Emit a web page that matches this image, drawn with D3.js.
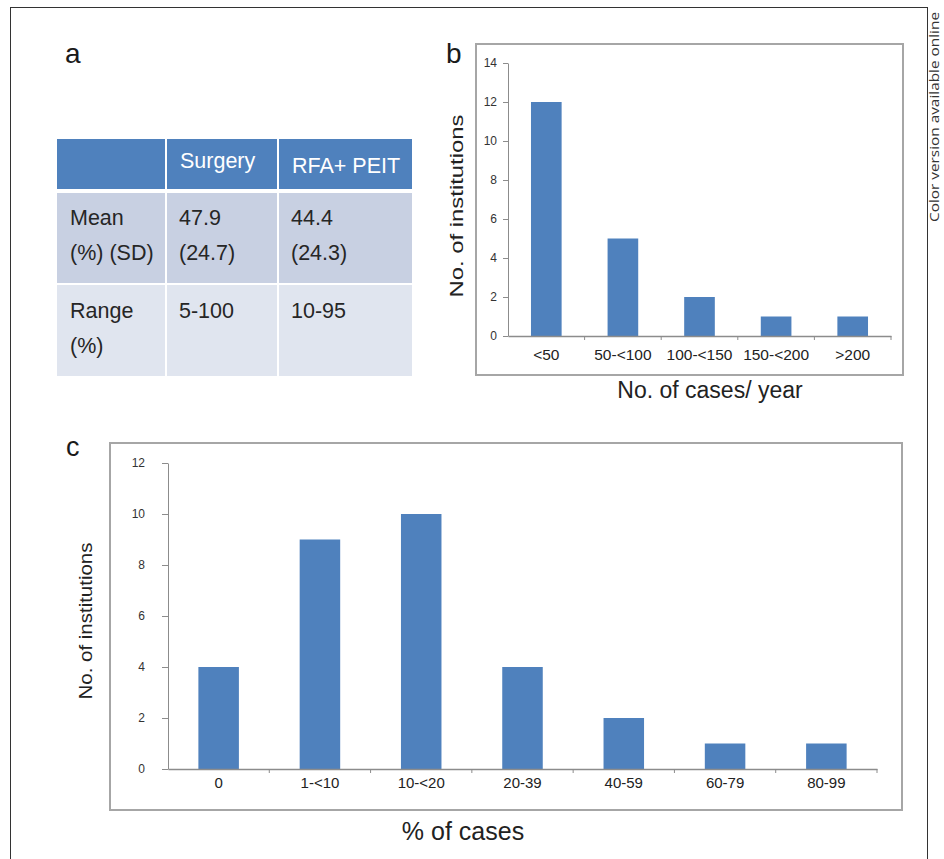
<!DOCTYPE html>
<html>
<head>
<meta charset="utf-8">
<script src="https://cdn.jsdelivr.net/npm/d3@7"></script>
<style>
  body { margin: 0; background: #fff; }
  svg { display: block; font-family: "Liberation Sans", Arial, sans-serif; }
</style>
</head>
<body>
<svg id="fig" width="944" height="859"></svg>
<script>
// ---- data ----
const tableHeader = ["", "Surgery", "RFA+ PEIT"];
const tableRows = [
    [["Mean", "(%) (SD)"], ["47.9", "(24.7)"], ["44.4", "(24.3)"]],
    [["Range", "(%)"], ["5-100"], ["10-95"]]
];

const casesCategories = ["<50", "50-<100", "100-<150", "150-<200", ">200"];
const casesValues = [12, 5, 2, 1, 1];
const casesTicks = [0, 2, 4, 6, 8, 10, 12, 14];

const percentCategories = ["0", "1-<10", "10-<20", "20-39", "40-59", "60-79", "80-99"];
const percentValues = [4, 9, 10, 4, 2, 1, 1];
const percentTicks = [0, 2, 4, 6, 8, 10, 12];

const barColor = "#4f81bd";
const axisColor = "#8c8c8c";
const textColor = "#262626";

const svg = d3.select("#fig");

// outer frame
svg.append("rect")
    .attr("x", 10.5).attr("y", 7.5)
    .attr("width", 917).attr("height", 900)
    .attr("fill", "none")
    .attr("stroke", "#333")
    .attr("stroke-width", 1);

svg.append("text")
    .attr("transform", "translate(939,12) rotate(-90)")
    .attr("text-anchor", "end")
    .attr("textLength", 210)
    .attr("lengthAdjust", "spacingAndGlyphs")
    .style("font-family", "'Open Sans', sans-serif")
    .style("font-size", "12.5px")
    .style("fill", "#333")
    .text("Color version available online");

// panel letters
const letters = [
    { t: "a", x: 65, y: 63, s: 28 },
    { t: "b", x: 446, y: 63, s: 28 },
    { t: "c", x: 66, y: 456, s: 27 }
];
svg.selectAll("text.letter")
    .data(letters)
    .enter()
    .append("text")
    .attr("class", "letter")
    .attr("x", d => d.x)
    .attr("y", d => d.y)
    .style("font-size", d => d.s + "px")
    .style("fill", "#1a1a1a")
    .text(d => d.t);

// ---- panel a: table ----
const colX = [57, 167, 279];
const colW = [108, 110, 133];
const rowY = [139, 193, 285];
const rowH = [50, 90, 91];
const rowFill = ["#4f81bd", "#c8d0e2", "#e0e5ef"];
const table = svg.append("g");

[tableHeader].concat(tableRows).forEach((row, ri) => {
    row.forEach((cell, ci) => {
        table.append("rect")
            .attr("x", colX[ci])
            .attr("y", rowY[ri])
            .attr("width", colW[ci])
            .attr("height", rowH[ri])
            .attr("fill", rowFill[ri]);
    });
});

table.selectAll("text.head")
    .data(tableHeader)
    .enter()
    .append("text")
    .attr("class", "head")
    .attr("x", (d, i) => colX[i] + 13)
    .attr("y", (d, i) => i === 2 ? 173 : 168)
    .style("font-size", "21.5px")
    .style("fill", "#fff")
    .text(d => d);

tableRows.forEach((row, ri) => {
    const base = ri === 0 ? 225 : 318;
    row.forEach((cell, ci) => {
        const xOff = ci === 0 ? 13 : 12;
        cell.forEach((line, li) => {
            table.append("text")
                .attr("x", colX[ci] + xOff)
                .attr("y", base + li * 35)
                .style("font-size", "21.5px")
                .style("fill", textColor)
                .text(line);
        });
    });
});

// ---- bar chart helper ----
function barChart(cfg) {
    const g = svg.append("g");

    g.append("rect")
        .attr("x", cfg.frame[0]).attr("y", cfg.frame[1])
        .attr("width", cfg.frame[2] - cfg.frame[0])
        .attr("height", cfg.frame[3] - cfg.frame[1])
        .attr("fill", "none")
        .attr("stroke", "#a6a6a6")
        .attr("stroke-width", 2);

    const x = d3.scaleBand()
        .domain(cfg.categories)
        .range([cfg.x0, cfg.x1])
        .paddingInner(0.6)
        .paddingOuter(0.3);

    const y = d3.scaleLinear()
        .domain([0, d3.max(cfg.ticks)])
        .range([cfg.y0, cfg.y1]);

    g.selectAll("rect.bar")
        .data(cfg.values)
        .enter()
        .append("rect")
        .attr("class", "bar")
        .attr("x", (d, i) => x(cfg.categories[i]))
        .attr("y", d => y(d))
        .attr("width", x.bandwidth())
        .attr("height", d => y(0) - y(d))
        .attr("fill", barColor);

    const yAxis = g.append("g")
        .attr("transform", `translate(${cfg.x0},0)`)
        .call(d3.axisLeft(y).tickValues(cfg.ticks).tickSize(cfg.yTickSize).tickPadding(cfg.yPad).tickSizeOuter(0));
    yAxis.select(".domain").attr("stroke", axisColor);
    yAxis.selectAll(".tick line").attr("stroke", axisColor);
    yAxis.selectAll("text")
        .style("font-family", "'Liberation Sans', Arial, sans-serif")
        .style("font-size", "12px")
        .style("fill", "#333");

    const xAxis = g.append("g")
        .attr("transform", `translate(0,${cfg.y0})`)
        .call(d3.axisBottom(x).tickSize(0).tickPadding(cfg.xPad).tickSizeOuter(0));
    xAxis.select(".domain").attr("stroke", axisColor).attr("stroke-width", 1.5);
    xAxis.selectAll("text")
        .style("font-family", "'Liberation Sans', Arial, sans-serif")
        .style("font-size", cfg.xFont + "px")
        .style("fill", "#222");

    // boundary ticks between categories
    const bounds = cfg.categories.map(c => x(c) - x.step() * x.paddingInner() / 2)
        .slice(1)
        .concat([cfg.x1]);
    g.selectAll("line.bound")
        .data(bounds)
        .enter()
        .append("line")
        .attr("class", "bound")
        .attr("x1", d => d).attr("x2", d => d)
        .attr("y1", cfg.y0).attr("y2", cfg.y0 + 4)
        .attr("stroke", axisColor);

    g.append("text")
        .attr("x", cfg.xTitle[0])
        .attr("y", cfg.xTitle[1])
        .attr("text-anchor", "middle")
        .style("font-size", cfg.xTitle[2] + "px")
        .style("fill", "#222")
        .text(cfg.xLabel);

    g.append("text")
        .attr("transform", `translate(${cfg.yTitle[0]},${cfg.yTitle[1]}) rotate(-90)`)
        .attr("text-anchor", "middle")
        .attr("textLength", cfg.yTitle[3])
        .attr("lengthAdjust", "spacingAndGlyphs")
        .style("font-size", cfg.yTitle[2] + "px")
        .style("fill", "#222")
        .text("No. of institutions");
}

// ---- panel b ----
barChart({
    frame: [476, 44, 903, 375],
    categories: casesCategories,
    values: casesValues,
    ticks: casesTicks,
    x0: 508, x1: 891, y0: 336, y1: 63,
    yTickSize: 5, yPad: 6, xPad: 13, xFont: 15.5,
    xLabel: "No. of cases/ year",
    xTitle: [710, 398, 23],
    yTitle: [463, 206, 19, 183]
});

// ---- panel c ----
barChart({
    frame: [110, 443, 902, 810],
    categories: percentCategories,
    values: percentValues,
    ticks: percentTicks,
    x0: 168, x1: 877, y0: 769, y1: 463,
    yTickSize: 6, yPad: 17, xPad: 8, xFont: 15,
    xLabel: "% of cases",
    xTitle: [463, 840, 25],
    yTitle: [92, 621, 19, 157]
});
</script>
</body>
</html>
